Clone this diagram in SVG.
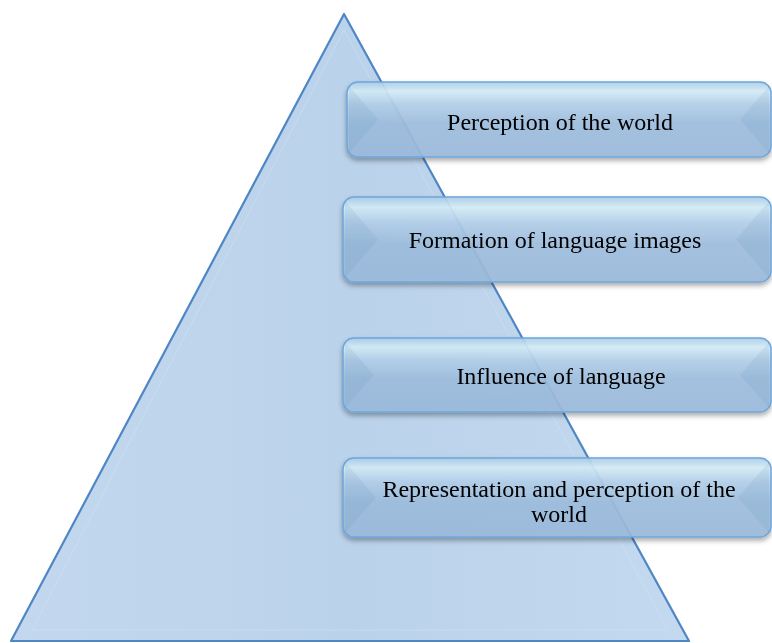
<svg xmlns="http://www.w3.org/2000/svg" width="772" height="643" viewBox="0 0 772 643">
<defs>
<linearGradient id="boxg" x1="0" y1="0" x2="0" y2="1">
<stop offset="0" stop-color="#a9cbe9"/>
<stop offset="0.12" stop-color="#d6eef8"/>
<stop offset="0.3" stop-color="#b4d0eb"/>
<stop offset="0.55" stop-color="#9fbfdf"/>
<stop offset="1" stop-color="#9cbbdc"/>
</linearGradient>
<linearGradient id="trig" x1="0" y1="0" x2="1" y2="0">
<stop offset="0" stop-color="#c3d8ee"/>
<stop offset="0.5" stop-color="#bad2ea"/>
<stop offset="1" stop-color="#c3d9ef"/>
</linearGradient>
<filter id="sh" x="-10%" y="-20%" width="120%" height="150%">
<feDropShadow dx="0" dy="3" stdDeviation="2.5" flood-color="#000" flood-opacity="0.35"/>
</filter>
<style>
.box{fill:url(#boxg);fill-opacity:0.9;stroke:#6ea6dc;stroke-width:1.5}
.facet{fill:#5d88b8;opacity:0.12}
.lbl{font-family:"Liberation Serif","Times New Roman",serif;font-size:24px;fill:#000;text-anchor:middle}
</style>
</defs>
<g id="pyramid">
<polygon points="344,14 689,641 11,641" fill="url(#trig)" stroke="#4f86c4" stroke-width="2.2" stroke-linejoin="round"/>
<polygon points="344,30 668,630 32,630" fill="none" stroke="#d4e5f5" stroke-width="1" opacity="0.5"/>
</g>
<g id="node1" filter="url(#sh)">
<rect class="box" x="347" y="82" width="424" height="75" rx="11"/>
<polygon class="facet" points="349,86 378,119.5 349,153"/>
<polygon class="facet" points="769,86 740,119.5 769,153"/>
<text class="lbl" x="560" y="130">Perception of the world</text>
</g>
<g id="node2" filter="url(#sh)">
<rect class="box" x="343" y="197" width="428" height="85" rx="11"/>
<polygon class="facet" points="345,201 378,239.5 345,278"/>
<polygon class="facet" points="769,201 736,239.5 769,278"/>
<text class="lbl" x="555" y="248">Formation of language images</text>
</g>
<g id="node3" filter="url(#sh)">
<rect class="box" x="343" y="338" width="428" height="74" rx="11"/>
<polygon class="facet" points="345,342 374,375 345,408"/>
<polygon class="facet" points="769,342 740,375 769,408"/>
<text class="lbl" x="561" y="384">Influence of language</text>
</g>
<g id="node4" filter="url(#sh)">
<rect class="box" x="343" y="458" width="428" height="79" rx="11"/>
<polygon class="facet" points="345,462 376,497.5 345,533"/>
<polygon class="facet" points="769,462 738,497.5 769,533"/>
<text class="lbl" x="559" y="497">Representation and perception of the</text>
<text class="lbl" x="559" y="522">world</text>
</g>
<g id="connectors"/>
</svg>
